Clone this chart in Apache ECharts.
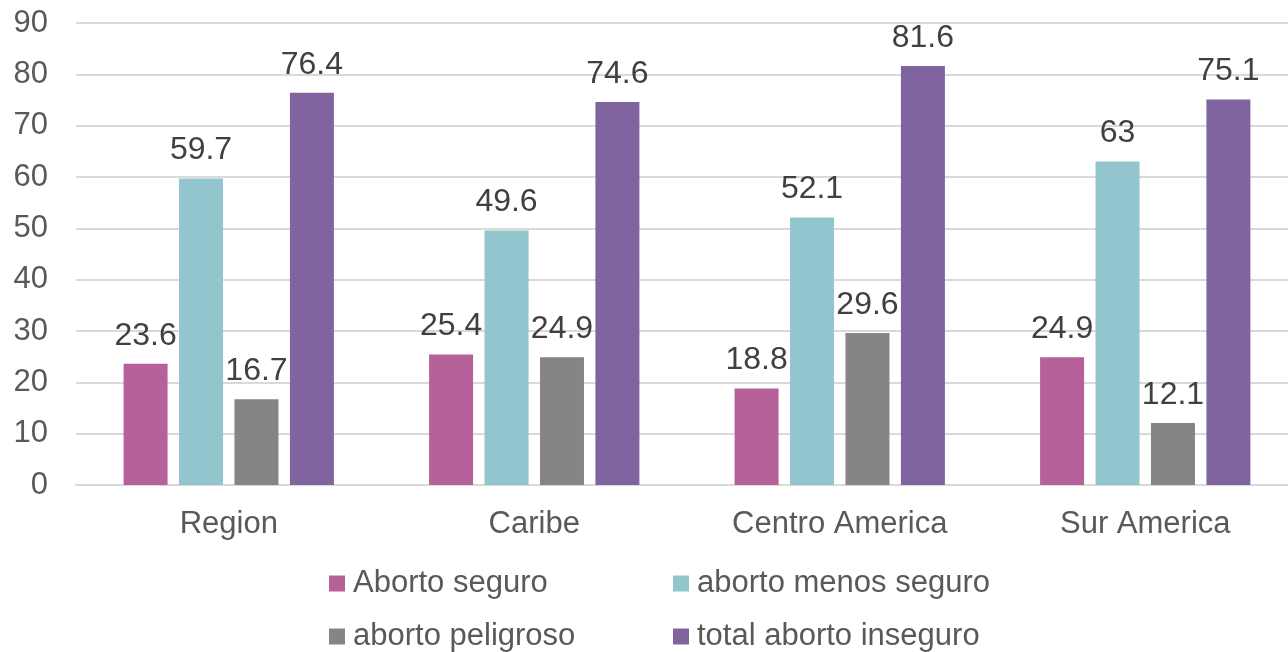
<!DOCTYPE html>
<html>
<head>
<meta charset="utf-8">
<script src="https://cdn.jsdelivr.net/npm/echarts@6/dist/echarts.min.js"></script>
<style>
html,body{margin:0;padding:0;background:#fff;overflow:hidden;}
/* el area del grafico sigue un poco mas alla del borde derecho */
#chart{width:1298px;height:652px;}
</style>
</head>
<body>
<div id="chart"></div>
<script>
// categorias y valores
var categories = ['Region', 'Caribe', 'Centro America', 'Sur America'];
var seriesNames = ['Aborto seguro', 'aborto menos seguro', 'aborto peligroso', 'total aborto inseguro'];
var abortoSeguro = [23.6, 25.4, 18.8, 24.9];
var abortoMenosSeguro = [59.7, 49.6, 52.1, 63];
var abortoPeligroso = [16.7, 24.9, 29.6, 12.1];
var totalInseguro = [76.4, 74.6, 81.6, 75.1];
var yTicks = [0, 10, 20, 30, 40, 50, 60, 70, 80, 90];

var colors = ['#B6619A', '#92C5CE', '#858585', '#8064A0'];
var font = 'Liberation Sans, Arial, sans-serif';

var chart = echarts.init(document.getElementById('chart'));

function mkSeries(name, data, color){
	return {
		name: name,
		type: 'bar',
		data: data,
		barWidth: 44,
		barGap: '26%',
		itemStyle: {color: color},
		label: {
			show: true,
			position: 'top',
			distance: 12,
			color: '#404040',
			fontSize: 32,
			fontFamily: font
		}
	};
}

// una leyenda por serie, para colocarlas en 2 columnas
function mkLegend(name, left, top){
	return {
		left: left,
		top: top,
		padding: 0,
		itemWidth: 16,
		itemHeight: 16,
		icon: 'rect',
		textStyle: {color: '#595959', fontSize: 31, fontFamily: font, padding: [0, 0, 0, 3]},
		data: [name]
	};
}

var option = {
	animation: false,
	grid: {left: 76, top: 23, right: 0, bottom: 167, containLabel: false},
	legend: [
		mkLegend(seriesNames[0], 329, 568),
		mkLegend(seriesNames[1], 673, 568),
		mkLegend(seriesNames[2], 329, 621),
		mkLegend(seriesNames[3], 673, 621)
	],
	xAxis: {
		type: 'category',
		data: categories,
		axisLine: {show: true, lineStyle: {color: '#D9D9D9', width: 2}},
		axisTick: {show: false},
		axisLabel: {color: '#595959', fontSize: 31, fontFamily: font, margin: 24}
	},
	yAxis: {
		type: 'value',
		min: yTicks[0],
		max: yTicks[yTicks.length - 1],
		interval: 10,
		axisLine: {show: false},
		axisTick: {show: false},
		splitLine: {lineStyle: {color: '#D9D9D9', width: 2}},
		axisLabel: {color: '#595959', fontSize: 31, fontFamily: font, margin: 28}
	},
	series: [
		mkSeries(seriesNames[0], abortoSeguro, colors[0]),
		mkSeries(seriesNames[1], abortoMenosSeguro, colors[1]),
		mkSeries(seriesNames[2], abortoPeligroso, colors[2]),
		mkSeries(seriesNames[3], totalInseguro, colors[3])
	]
};
chart.setOption(option);
</script>
</body>
</html>
